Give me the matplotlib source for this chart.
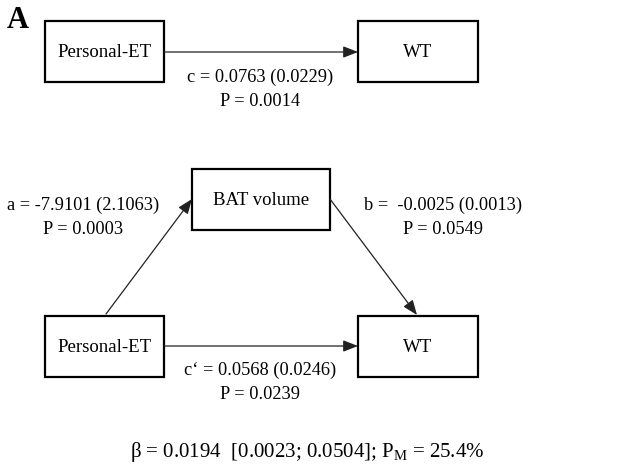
import matplotlib
matplotlib.use("Agg")
import matplotlib.pyplot as plt
from matplotlib.patches import Rectangle

plt.rcParams["font.family"] = ["Liberation Serif", "DejaVu Serif"]

# boxes: label, left, top, width, height (pixels)
box_labels = ["Personal-ET", "WT", "BAT volume", "Personal-ET", "WT"]
box_x = [45, 358, 192, 45, 358]
box_y = [22, 22, 170, 317, 317]
box_w = [119, 120, 138, 119, 120]
box_h = [61, 61, 61, 61, 61]

# paths: coefficient (SE), p value
path_names = ["c", "a", "b", "c\u2018"]
path_coef = ["0.0763", "-7.9101", " -0.0025", "0.0568"]
path_se = ["0.0229", "2.1063", "0.0013", "0.0246"]
path_p = ["0.0014", "0.0003", "0.0549", "0.0239"]

beta = "0.0194"
ci = ["0.0023", "0.0504"]
pm = "25.4%"

fig = plt.figure(figsize=(6.21, 4.77), dpi=100)
ax = fig.add_axes([0, 0, 1, 1])
ax.set_xlim(0, 621)
ax.set_ylim(477, 0)
ax.axis("off")

for lab, x, y, w, h in zip(box_labels, box_x, box_y, box_w, box_h):
    ax.add_patch(Rectangle((x, y), w, h, fill=False, edgecolor="black", lw=1.6))
    ax.text(x + w / 2, y + h / 2, lab, ha="center", va="center", fontsize=13.5)

arrow = dict(arrowstyle="-|>,head_length=0.9,head_width=0.35", color="#222222",
             lw=0.9, shrinkA=0, shrinkB=0)
# top c path
ax.annotate("", xy=(box_x[1], 53), xytext=(box_x[0] + box_w[0], 53), arrowprops=arrow)
# a path
ax.annotate("", xy=(192, 200), xytext=(106, 315), arrowprops=arrow)
# b path
ax.annotate("", xy=(417, 316), xytext=(330, 200), arrowprops=arrow)
# c' path
ax.annotate("", xy=(box_x[4], 347), xytext=(box_x[3] + box_w[3], 347), arrowprops=arrow)

label_pos = [(260, 77), (83, 205), (443, 205), (260, 370)]
for name, coef, se, p, (lx, ly) in zip(path_names, path_coef, path_se, path_p, label_pos):
    ax.text(lx, ly, f"{name} = {coef} ({se})", ha="center", va="center", fontsize=13.2)
    ax.text(lx, ly + 25, f"P = {p}", ha="center", va="center", fontsize=13.2)

ax.text(307, 452, f"\u03b2 = {beta}  [{ci[0]}; {ci[1]}]; P$_{{\\mathregular{{M}}}}$ = {pm}",
        ha="center", va="center", fontsize=15)

ax.text(18, 21, "A", ha="center", va="center", fontsize=22, fontweight="bold")

fig.savefig("out.png", dpi=100)
